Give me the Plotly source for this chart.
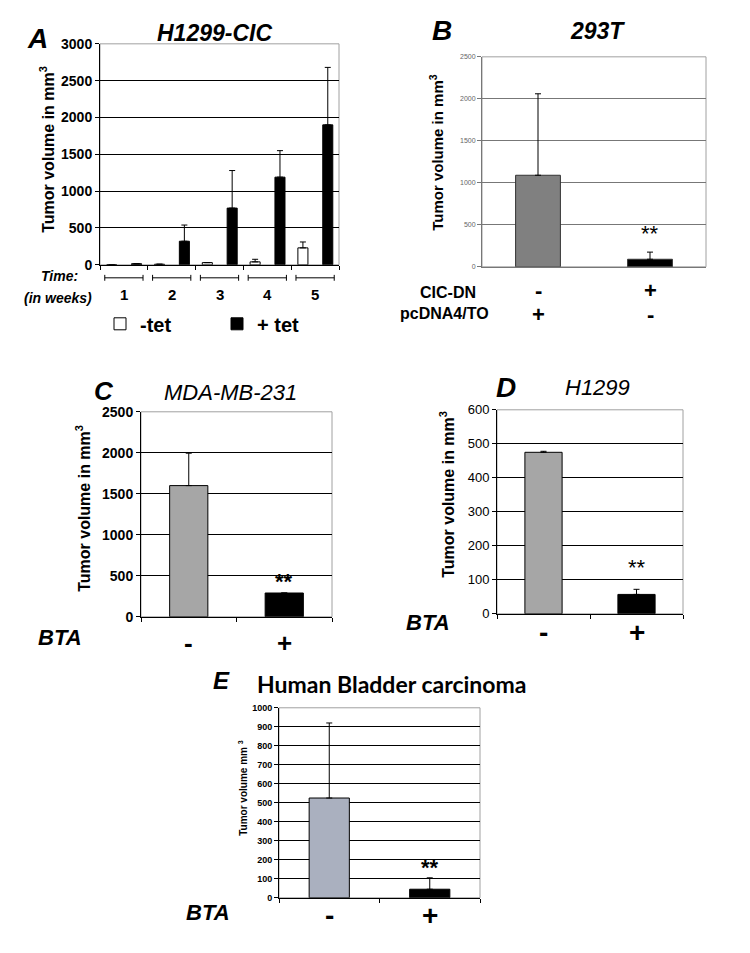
import plotly.graph_objects as go

# Panel A - H1299-CIC, tumor volume over time
weeks = [1, 2, 3, 4, 5]
minus_tet = [0, 8, 30, 40, 230]
minus_tet_err = [0, 0, 0, 35, 80]
plus_tet = [15, 320, 770, 1190, 1900]
plus_tet_err = [0, 220, 510, 360, 780]

# Panel B - 293T
b_pos = [0, 1]
b_vals = [1090, 90]
b_err = [970, 85]
b_row1 = ["-", "+"]   # CIC-DN
b_row2 = ["+", "-"]   # pcDNA4/TO

# Panel C - MDA-MB-231
c_vals = [1600, 290]
c_err = [395, 0]

# Panel D - H1299
d_vals = [475, 57]
d_err = [3, 15]

# Panel E - Human Bladder carcinoma
e_vals = [525, 45]
e_err = [395, 60]

bta_labels = ["-", "+"]

# page has an 8px body margin, so the figure is a bit smaller than the window
W, H = 734, 937
OFF = 8
FONT = "Liberation Sans, Arial, sans-serif"


def px(x):
    return (x - OFF) / W


def py(y):
    # small vertical correction measured from the rendered page
    yp = (y - 7.3) / 0.983 - OFF
    return 1 - yp / H


def err(arr):
    return dict(type="data", array=arr, arrayminus=[0] * len(arr), symmetric=False,
                color="black", thickness=1, width=3)


fig = go.Figure()

# A
fig.add_trace(go.Bar(x=weeks, y=minus_tet, error_y=err(minus_tet_err), name="-tet",
                     marker=dict(color="white", line=dict(color="black", width=1)),
                     offset=-0.36, width=0.21, xaxis="x", yaxis="y"))
fig.add_trace(go.Bar(x=weeks, y=plus_tet, error_y=err(plus_tet_err), name="+ tet",
                     marker=dict(color="black", line=dict(color="black", width=1)),
                     offset=0.16, width=0.21, xaxis="x", yaxis="y"))

# B
fig.add_trace(go.Bar(x=b_pos, y=b_vals, error_y=err(b_err), width=0.4, showlegend=False,
                     marker=dict(color=["#808080", "black"], line=dict(color="#333", width=1)),
                     xaxis="x2", yaxis="y2"))
# C
fig.add_trace(go.Bar(x=b_pos, y=c_vals, error_y=err(c_err), width=0.4, showlegend=False,
                     marker=dict(color=["#a6a6a6", "black"], line=dict(color="black", width=1)),
                     xaxis="x3", yaxis="y3"))
# D
fig.add_trace(go.Bar(x=b_pos, y=d_vals, error_y=err(d_err), width=0.4, showlegend=False,
                     marker=dict(color=["#a6a6a6", "black"], line=dict(color="black", width=1)),
                     xaxis="x4", yaxis="y4"))
# E
fig.add_trace(go.Bar(x=b_pos, y=e_vals, error_y=err(e_err), width=0.4, showlegend=False,
                     marker=dict(color=["#aab0bf", "black"], line=dict(color="black", width=1)),
                     xaxis="x5", yaxis="y5"))


def xax(x0, x1, anchor, rng, tickvals, linecolor="black"):
    return dict(domain=[px(x0), px(x1)], anchor=anchor, range=rng, tickvals=tickvals,
                showticklabels=False, ticks="outside", ticklen=4, tickcolor=linecolor,
                showline=True, linecolor=linecolor, linewidth=1, showgrid=False,
                zeroline=False, fixedrange=True)


def yax(y0, y1, anchor, ymax, dtick, size, weight="bold", color="black",
        gridcolor="black", linecolor="black"):
    return dict(domain=[py(y1), py(y0)], anchor=anchor, range=[0, ymax], dtick=dtick,
                ticks="outside", ticklen=4, tickcolor=linecolor,
                tickfont=dict(family=FONT, size=size, weight=weight, color=color),
                showline=True, linecolor=linecolor, linewidth=1,
                showgrid=True, gridcolor=gridcolor, gridwidth=1, zeroline=False,
                fixedrange=True)


mid = [-0.5, 0.5, 1.5]
fig.update_layout(
    xaxis=xax(100, 339, "y", [0.5, 5.5], [0.5, 1.5, 2.5, 3.5, 4.5, 5.5]),
    yaxis=yax(43, 264, "x", 3000, 500, 14),
    xaxis2=xax(482, 706, "y2", [-0.5, 1.5], [], linecolor="#777"),
    yaxis2=yax(56, 266, "x2", 2500, 500, 7, weight="normal", color="#666",
               gridcolor="#777", linecolor="#777"),
    xaxis3=xax(141, 332, "y3", [-0.5, 1.5], mid),
    yaxis3=yax(411, 616, "x3", 2500, 500, 14),
    xaxis4=xax(497, 683, "y4", [-0.5, 1.5], mid),
    yaxis4=yax(409, 613, "x4", 600, 100, 13, weight="normal"),
    xaxis5=xax(279, 480, "y5", [-0.5, 1.5], mid),
    yaxis5=yax(707, 897, "x5", 1000, 100, 9),
)

# gray frames around plot areas
shapes = []
for xa, ya in [("x", "y"), ("x2", "y2"), ("x3", "y3"), ("x4", "y4"), ("x5", "y5")]:
    shapes.append(dict(type="rect", xref=xa + " domain", yref=ya + " domain",
                       x0=0, x1=1, y0=0, y1=1, layer="below",
                       line=dict(color="#a0a0a0", width=1)))
# week brackets under panel A
for w in weeks:
    yb = py(277)
    shapes.append(dict(type="line", xref="x", yref="paper", x0=w - 0.4, x1=w + 0.4,
                       y0=yb, y1=yb, line=dict(color="black", width=1)))
    for xe in (w - 0.4, w + 0.4):
        shapes.append(dict(type="line", xref="x", yref="paper", x0=xe, x1=xe,
                           y0=yb - 3 / H, y1=yb + 3 / H, line=dict(color="black", width=1)))

ann = []


def txt(x, y, s, size, bold=True, italic=False, angle=0, xanchor="center", family=FONT,
        xref="paper"):
    ann.append(dict(x=x if xref != "paper" else px(x), y=py(y), xref=xref, yref="paper",
                    text=s, showarrow=False, textangle=angle, xanchor=xanchor,
                    yanchor="middle",
                    font=dict(family=family, size=size, color="black",
                              weight="bold" if bold else "normal",
                              style="italic" if italic else "normal")))


ytitle = "Tumor volume in mm<sup>3</sup>"
# A
txt(37, 38, "A", 28, italic=True)
txt(214, 32, "H1299-CIC", 23, italic=True)
txt(47, 149, ytitle, 16, angle=-90)
txt(59, 275, "Time:", 14, italic=True)
txt(58, 297, "(in weeks)", 14, italic=True)
for w in weeks:
    txt(w, 294, str(w), 15, xref="x")
# B
txt(442, 30, "B", 28, italic=True)
txt(597, 30, "293T", 23, italic=True)
txt(437, 152, ytitle, 15, angle=-90)
txt(448, 292, "CIC-DN", 16)
txt(444, 313, "pcDNA4/TO", 16)
for p, a, b in zip(b_pos, b_row1, b_row2):
    txt(p, 290, a, 22, xref="x2")
    txt(p, 314, b, 22, xref="x2")
txt(1, 233, "**", 22, bold=False, xref="x2")
# C
txt(104, 390, "C", 26, italic=True)
txt(230, 392, "MDA-MB-231", 22, bold=False, italic=True)
txt(83, 508, ytitle, 16, angle=-90)
txt(60, 637, "BTA", 22, italic=True)
for p, s in zip(b_pos, bta_labels):
    txt(p, 642, s, 26, xref="x3")
txt(1, 581, "**", 22, xref="x3")
# D
txt(506, 387, "D", 28, italic=True)
txt(597, 387, "H1299", 22, bold=False, italic=True)
txt(447, 494, ytitle, 16, angle=-90)
txt(428, 622, "BTA", 22, italic=True)
for p, s in zip(b_pos, bta_labels):
    txt(p, 632, s, 28, xref="x4")
txt(1, 567, "**", 22, bold=False, xref="x4")
# E
txt(221, 680, "E", 24, italic=True)
txt(255, 683, "Human Bladder carcinoma", 23, xanchor="left", family="Lato, sans-serif")
txt(243, 787, "Tumor volume mm <sup>3</sup>", 10, angle=-90)
txt(208, 912, "BTA", 22, italic=True)
for p, s in zip(b_pos, bta_labels):
    txt(p, 915, s, 28, xref="x5")
txt(1, 867, "**", 22, xref="x5")

fig.update_layout(
    width=W, height=H, margin=dict(l=0, r=0, t=0, b=0),
    paper_bgcolor="white", plot_bgcolor="white",
    barmode="overlay", shapes=shapes, annotations=ann,
    legend=dict(orientation="h", x=px(100), y=py(323), xanchor="left", yanchor="middle",
                font=dict(family=FONT, size=20, weight="bold", color="black"),
                entrywidth=72, entrywidthmode="pixels", bgcolor="rgba(0,0,0,0)"),
)

fig.write_html("out.html")
